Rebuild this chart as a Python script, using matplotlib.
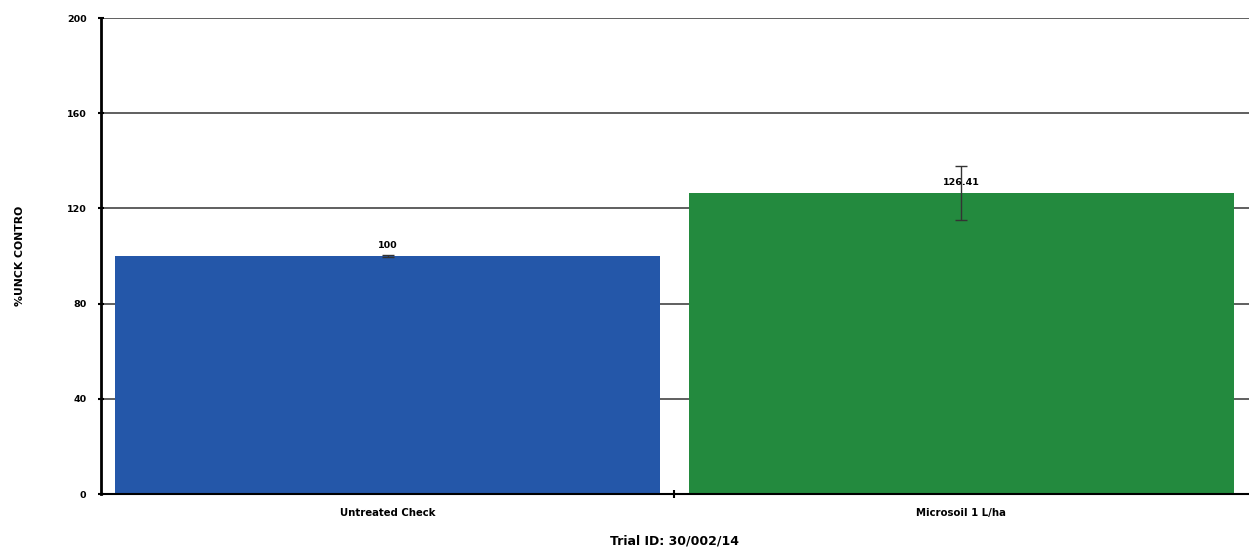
import matplotlib
matplotlib.use("Agg")
import matplotlib.pyplot as plt

categories = ["Untreated Check", "Microsoil 1 L/ha"]
values = [100, 126.41]
errors = [0.5, 11.3]
value_labels = ["100", "126.41"]
yticks = [0, 40, 80, 120, 160, 200]
colors = ["#2457A9", "#238A3E"]

plt.rcParams['font.family'] = ['DejaVu Sans']
fig = plt.figure(figsize=(12.49, 5.5), dpi=100)
ax = fig.add_axes([101/1249, 1-494/550, (1249-101)/1249, (494-18)/550])

x = list(range(len(categories)))
ax.bar(x, values, width=0.95, color=colors, zorder=2)
ax.errorbar(x, values, yerr=errors, fmt='none', ecolor='#333333', elinewidth=1, capsize=4, zorder=3)
for xi, v, lab in zip(x, values, value_labels):
    ax.text(xi, v + 2.5, lab, ha='center', va='bottom', fontsize=6.8, fontweight='bold', zorder=4)

ax.set_ylim(0, 200)
ax.set_xlim(-0.4996, 1.502)
ax.set_yticks(yticks)
ax.set_yticklabels([str(t) for t in yticks], fontsize=6.8, fontweight='bold')
ax.set_xticks(x)
ax.set_xticklabels(categories, fontsize=7.3, fontweight='bold')
ax.set_xticks([0.5], minor=True)
ax.tick_params(axis='x', which='major', length=0, pad=10)
ax.tick_params(axis='x', which='minor', length=6, direction='inout', width=1.5)
ax.tick_params(axis='y', length=5, direction='inout', width=1.5, pad=8)
ax.yaxis.grid(True, color='#444444', linewidth=1.2, zorder=0)
ax.set_axisbelow(True)
for s in ['top', 'right']:
    ax.spines[s].set_visible(False)
ax.spines['left'].set_linewidth(2)
ax.spines['bottom'].set_linewidth(1.5)
ax.set_ylabel("%UNCK CONTRO", fontsize=7.8, fontweight='bold', labelpad=30)
ax.set_xlabel("Trial ID: 30/002/14", fontsize=9, fontweight='bold', labelpad=12)

fig.savefig("out.png", dpi=100)
